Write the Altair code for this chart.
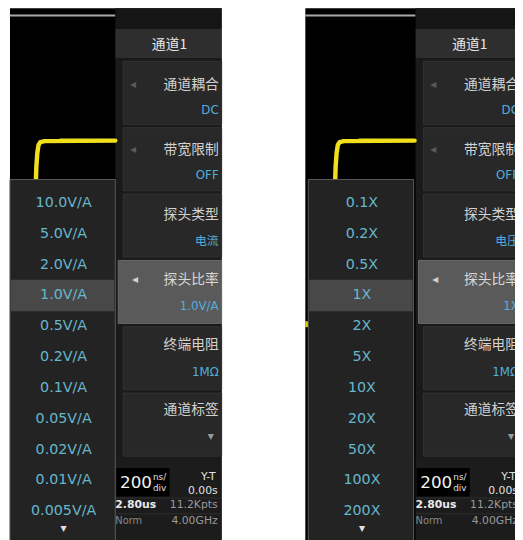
import altair as alt
import pandas as pd

# ---------------- values ----------------
left_options = ["10.0V/A", "5.0V/A", "2.0V/A", "1.0V/A", "0.5V/A", "0.2V/A",
                "0.1V/A", "0.05V/A", "0.02V/A", "0.01V/A", "0.005V/A"]
right_options = ["0.1X", "0.2X", "0.5X", "1X", "2X", "5X",
                 "10X", "20X", "50X", "100X", "200X"]
menu_titles = ["通道耦合", "带宽限制", "探头类型", "探头比率", "终端电阻", "通道标签"]
left_values = ["DC", "OFF", "电流", "1.0V/A", "1MΩ", "▼"]
right_values = ["DC", "OFF", "电压", "1X", "1MΩ", "▼"]
menu_has_arrow = [True, True, False, True, False, False]
selected = 3
header = "通道1"
timebase = "200"
timebase_unit = ["ns/", "div"]
status_mode = ["Y-T", "0.00s"]
status_row2 = ["2.80us", "11.2Kpts"]
status_row3 = ["Norm", "4.00GHz"]
# yellow trace (offset from trace start, screen y)
wave_dx = [0, 0.8, 1.8, 3.0, 5.0, 9.0, 25.0, 81.0]
wave_y = [190, 165, 151, 143, 140, 139, 138.5, 138.5]

# ---------------- layout ----------------
CJK = "Noto Sans CJK SC"
LAT = "DejaVu Sans"
screens = [
    dict(dx=0, ddx=0, wdx=0, x0=10, options=left_options, values=left_values),
    dict(dx=305, ddx=303, wdx=304, x0=310, options=right_options, values=right_values),
]

rects_back, rects_front, texts, wave = [], [], [], []


def R(lst, x, x2, y, y2, fill, stroke="transparent", sw=0):
    lst.append(dict(x=x, x2=x2, y=y, y2=y2, fill=fill, stroke=stroke, sw=sw))


def T(x, y, text, color, size, align="center", font=CJK, weight="normal"):
    texts.append(dict(x=x, y=y, text=text, color=color, size=size,
                      align=align, font=font, weight=weight))


for k, s in enumerate(screens):
    d = s["dx"]
    split, right = 117 + d, 225 + d
    R(rects_back, s["x0"], right, 4, 545, "#000000")
    R(rects_back, s["x0"], split, 10.5, 12.5, "#a9a9a9")
    R(rects_back, split, right, 4, 25, "#151515")
    R(rects_back, split, right, 25, 55, "#2e2e2e")
    R(rects_back, split, right, 55, 463, "#1a1a1a")
    T(split + 55, 41, header, "#e6e6e6", 14)
    for i, t in enumerate(menu_titles):
        top = 58 + 67.4 * i
        if i == selected:
            R(rects_back, split + 3, right, top, top + 64, "#5a5a5a", "#6a6a6a", 1)
        else:
            R(rects_back, split + 8, right, top, top + 64, "#282828", "#323232", 1)
        ty = 82 + 66 * i
        vy = 107 + 66.6 * i
        T(right - 3, ty, t, "#d2d2d2" if i != selected else "#d8d8d8", 14, "right")
        v = s["values"][i]
        if v == "▼":
            T(right - 8, vy, v, "#9a9a9a", 8, "right", LAT)
        else:
            T(right - 3, vy, v, "#52aede", 12, "right", CJK if v in ("电流", "电压") else LAT)
        if menu_has_arrow[i]:
            T(split + 18 + (2 if i == selected else 0), ty, "◀",
              "#d0d0d0" if i == selected else "#5a5a5a", 8, "center", LAT)
    # status bar
    R(rects_back, split, right, 463, 545, "#1c1c1c")
    R(rects_back, split + 1, split + 55, 471, 500, "#000000")
    R(rects_back, split, right, 501, 502, "#2c2c2c")
    R(rects_back, split, right, 517, 518, "#2c2c2c")
    T(split + 21, 486, timebase, "#f2f2f2", 17, "center", LAT)
    T(split + 45, 480, timebase_unit[0], "#e0e0e0", 9, "center", LAT)
    T(split + 45, 491, timebase_unit[1], "#e0e0e0", 9, "center", LAT)
    T(right - 6, 480, status_mode[0], "#e0e0e0", 11, "right", LAT)
    T(right - 4, 494, status_mode[1], "#e0e0e0", 11, "right", LAT)
    T(split + 0, 509, status_row2[0], "#e8e8e8", 11, "left", LAT, "bold")
    T(right - 4, 509, status_row2[1], "#9a9a9a", 11, "right", LAT)
    T(split + 0, 525, status_row3[0], "#8a8a8a", 10, "left", LAT)
    T(right - 4, 525, status_row3[1], "#9a9a9a", 11, "right", LAT)
    # channel marker
    R(rects_back, s["x0"], s["x0"] + 3, 322, 328, "#e2d800")
    # trace
    for dxw, yw in zip(wave_dx, wave_y):
        wave.append(dict(x=36 + s["wdx"] + dxw, y=yw, screen=k))
    # dropdown list
    dl, dr = 10 + s["ddx"], 117 + s["ddx"]
    R(rects_front, dl, dr, 178, 560, "#232323", "#5a5a5a", 1)
    hy = 202 + 31.3 * selected
    R(rects_front, dl + 1, dr - 1, hy - 16, hy + 16, "#484848")
    for j, o in enumerate(s["options"]):
        T((dl + dr) / 2 + 1, 202 + 31.3 * j, o, "#66b6cc", 14.5, "center", LAT)
    T((dl + dr) / 2 + 1, 533, "▼", "#e0e0e0", 8, "center", LAT)

W, H = 515, 532
xs = alt.Scale(domain=[8, 8 + W], nice=False, zero=False)
ys = alt.Scale(domain=[8, 8 + H], nice=False, zero=False, reverse=True)


def rect_layer(rows):
    return alt.Chart(pd.DataFrame(rows)).mark_rect().encode(
        x=alt.X("x:Q", scale=xs, axis=None),
        x2="x2:Q",
        y=alt.Y("y:Q", scale=ys, axis=None),
        y2="y2:Q",
        fill=alt.Fill("fill:N", scale=None),
        stroke=alt.Stroke("stroke:N", scale=None),
        strokeWidth=alt.StrokeWidth("sw:Q", scale=None),
    )


wave_layer = alt.Chart(pd.DataFrame(wave)).mark_line(
    color="#f0e01c", strokeWidth=4.5, strokeJoin="round", strokeCap="round"
).encode(
    x=alt.X("x:Q", scale=xs, axis=None),
    y=alt.Y("y:Q", scale=ys, axis=None),
    detail="screen:N",
    order="y:Q",
)

tdf = pd.DataFrame(texts)
text_layers = []
for (al, fo, we), sub in tdf.groupby(["align", "font", "weight"]):
    text_layers.append(
        alt.Chart(sub).mark_text(align=al, baseline="middle", font=fo, fontWeight=we).encode(
            x=alt.X("x:Q", scale=xs, axis=None),
            y=alt.Y("y:Q", scale=ys, axis=None),
            text="text:N",
            color=alt.Color("color:N", scale=None),
            size=alt.Size("size:Q", scale=None),
        )
    )

chart = alt.layer(
    rect_layer(rects_back), wave_layer, rect_layer(rects_front), *text_layers
).properties(
    width=W, height=H, padding=0, autosize=alt.AutoSizeParams(type="none"),
    background="white",
).configure_view(stroke=None)

chart.save("out.html", embed_options={"renderer": "svg", "actions": False})
